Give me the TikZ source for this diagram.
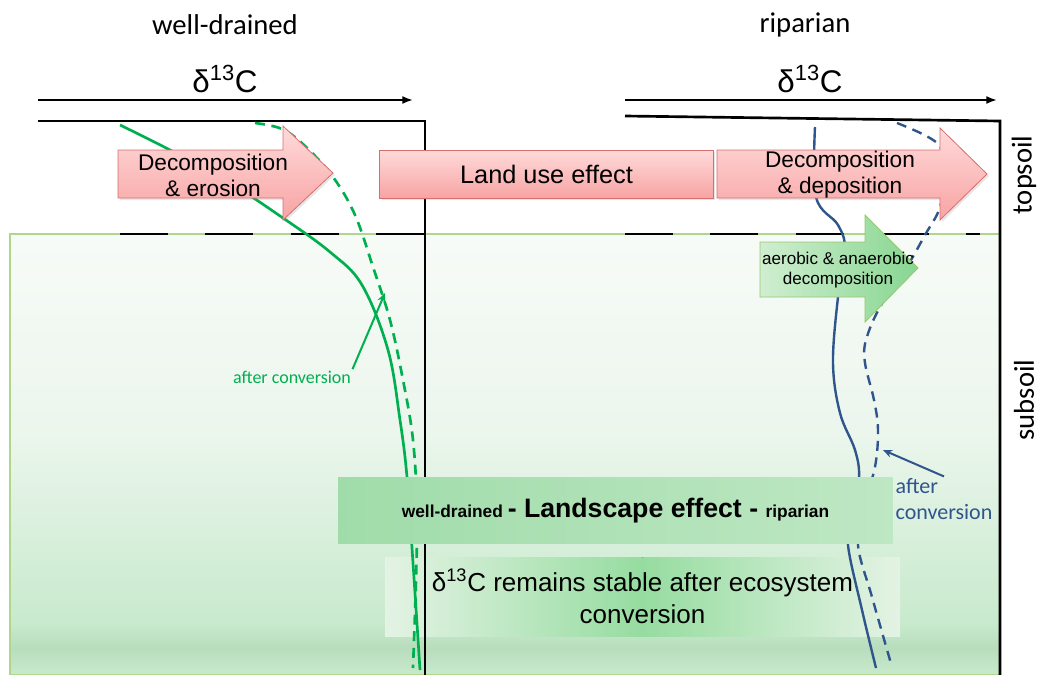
\documentclass[tikz,border=0pt]{standalone}
\usepackage{fontspec}
\setmainfont{Liberation Sans}
\newfontfamily\calibri{Carlito}
\usetikzlibrary{arrows.meta,shadows}
\definecolor{wdgreen}{RGB}{0,176,80}
\definecolor{ripblue}{RGB}{47,85,140}
\definecolor{pinkedge}{RGB}{215,110,110}
\definecolor{pinktop}{RGB}{255,218,218}
\definecolor{pinkbot}{RGB}{248,163,163}
\definecolor{leafedge}{RGB}{150,200,110}
\definecolor{leaflight}{RGB}{208,238,208}
\definecolor{leafdark}{RGB}{135,214,145}
\definecolor{rimgreen}{RGB}{175,215,140}
\definecolor{soiltop}{RGB}{247,251,247}
\definecolor{soilmid}{RGB}{236,246,237}
\definecolor{soilbot}{RGB}{200,234,205}
\definecolor{bandgreen}{RGB}{184,221,189}
\definecolor{boxgreen}{RGB}{160,220,170}
\definecolor{boxlight}{RGB}{190,231,195}
\definecolor{stableedge}{RGB}{228,243,228}
\definecolor{stablemid}{RGB}{150,220,160}

\begin{document}
\begin{tikzpicture}[x=0.75pt,y=-0.75pt,
  title/.style={font=\calibri\fontsize{21.5}{25}\selectfont},
  deltalbl/.style={font=\fontsize{23.5}{27}\selectfont},
  axis/.style={line width=1.5pt,-{Latex[length=8pt,width=6pt]}},
  soilline/.style={line width=2pt},
  boundary/.style={line width=2pt,dash pattern=on 36pt off 28pt},
  wdcurve/.style={wdgreen,line width=2pt},
  ripcurve/.style={ripblue,line width=1.8pt},
  pinkarrow/.style={draw=pinkedge,line width=0.6pt,top color=pinktop,bottom color=pinkbot,
    drop shadow={opacity=0.2,shadow xshift=1.5pt,shadow yshift=-1.5pt}},
  greenarrow/.style={draw=leafedge,line width=0.6pt,left color=leaflight,right color=leafdark},
  arrowtext/.style={align=center,font=\fontsize{17}{19.5}\selectfont},
  pointer/.style={line width=1.5pt,-{Stealth[length=7pt,width=6pt]}}
]
\useasboundingbox (0,0) rectangle (1040,675);

% subsoil background
\fill[top color=soiltop,bottom color=soilmid] (10,234) rectangle (1000,430);
\fill[top color=soilmid,bottom color=soilbot] (10,430) rectangle (1000,622);
\fill[top color=soilbot,bottom color=bandgreen] (10,622) rectangle (1000,648);
\fill[top color=bandgreen,bottom color=soilbot] (10,648) rectangle (1000,675);
\draw[rimgreen,line width=0.8pt] (10,234) rectangle (1000,675);

% stable box (behind the profiles)
\fill[left color=stableedge,right color=stablemid] (385,557) rectangle (642.5,636);
\fill[left color=stablemid,right color=stableedge] (642.5,557) rectangle (900,636);
\node[align=center,font=\fontsize{19.5}{24}\selectfont] (stable) at (642.5,596.5)
  {δ\textsuperscript{13}C remains stable after ecosystem\\conversion};

% titles and axes
\node[title] (wdTitle) at (225,25) {well-drained};
\node[title] (ripTitle) at (805,25) {riparian};
\node[deltalbl] (wdDelta) at (225,79) {δ\textsuperscript{13}C};
\node[deltalbl] (ripDelta) at (810,79) {δ\textsuperscript{13}C};
\draw[axis] (38,100) -- (413,100);
\draw[axis] (625,100) -- (997,100);

% soil boxes
\draw[soilline] (38,121) -- (425,121) -- (425,675);
\draw[soilline] (625,116) -- (1000,121) -- (1000,675);
\draw[boundary] (120,234) -- (425,234);
\draw[boundary] (625,234) -- (980,234);

% d13C profiles
\draw[wdcurve] plot[smooth,tension=0.6] coordinates {(120,125) (170,150) (230,183) (283,218) (330,252) (362,285) (388,350) (400,420) (407,477) (413,563) (420,670)};
\draw[wdcurve,dash pattern=on 7.5pt off 5pt] plot[smooth,tension=0.6] coordinates {(255,123) (282,129) (305,146) (333,177) (355,215) (373,267) (390,320) (403,380) (413,440) (417,510) (416,580) (413,668)};
\draw[ripcurve] plot[smooth,tension=0.6] coordinates {(815,127) (816,197) (838,225) (845,250) (838,297) (833,363) (840,413) (855,450) (859,478) (852,515) (848,545) (862,610) (876,668)};
\draw[ripcurve,dash pattern=on 7.5pt off 5pt] plot[smooth,tension=0.6] coordinates {(897,123) (937,143) (945,170) (940,207) (925,235) (905,270) (880,307) (866,340) (865,363) (874,400) (878,430) (875,467) (864,505) (858,545) (872,597) (892,667)};

% after conversion labels
\coordinate (wdTip) at (385,293);
\coordinate (ripTip) at (883,450);
\node[font=\calibri\fontsize{13.5}{16}\selectfont,text=wdgreen,inner sep=1pt] (wdAfter) at (292,377) {after conversion};
\node[font=\calibri\fontsize{16.5}{20}\selectfont,text=ripblue,align=left,inner sep=1pt] (ripAfter) at (944,499) {after\\conversion};
\draw[pointer,wdgreen] (wdAfter.north east) -- (wdTip);
\draw[pointer,ripblue] (ripAfter.north) -- (ripTip);

% landscape effect box
\node[minimum width=416pt,minimum height=49pt,inner sep=0pt,
  left color=boxgreen,right color=boxlight,font=\bfseries] (landscape) at (615.5,510.5)
  {\fontsize{13}{15}\selectfont well-drained \fontsize{20}{24}\selectfont - Landscape effect - \fontsize{13}{15}\selectfont riparian};

% process arrows
\draw[pinkarrow] (118,150) -- (283,150) -- (283,126) -- (333,173) -- (283,220) -- (283,198) -- (118,198) -- cycle;
\node[arrowtext] (erosion) at (213,175) {Decomposition\\\& erosion};
\node[minimum width=250pt,minimum height=36pt,inner sep=0pt,draw=pinkedge,line width=0.6pt,
  top color=pinktop,bottom color=pinkbot,drop shadow={opacity=0.2,shadow xshift=1.5pt,shadow yshift=-1.5pt},
  font=\fontsize{19}{22}\selectfont] (landuse) at (546.5,174) {Land use effect};
\draw[pinkarrow] (717,150) -- (940,150) -- (940,128) -- (987,174) -- (940,220) -- (940,198) -- (717,198) -- cycle;
\node[arrowtext] (deposition) at (840,175) {Decomposition\\\& deposition};
\draw[greenarrow] (760,242) -- (865,242) -- (865,215) -- (918,268) -- (865,322) -- (865,297) -- (760,297) -- cycle;
\node[arrowtext,font=\fontsize{12.8}{15.5}\selectfont] (aerobic) at (838,270) {aerobic \& anaerobic\\decomposition};

% soil layers
\node[title,rotate=90] (topsoil) at (1024,175) {topsoil};
\node[title,rotate=90] (subsoil) at (1024,400) {subsoil};
\end{tikzpicture}
\end{document}
